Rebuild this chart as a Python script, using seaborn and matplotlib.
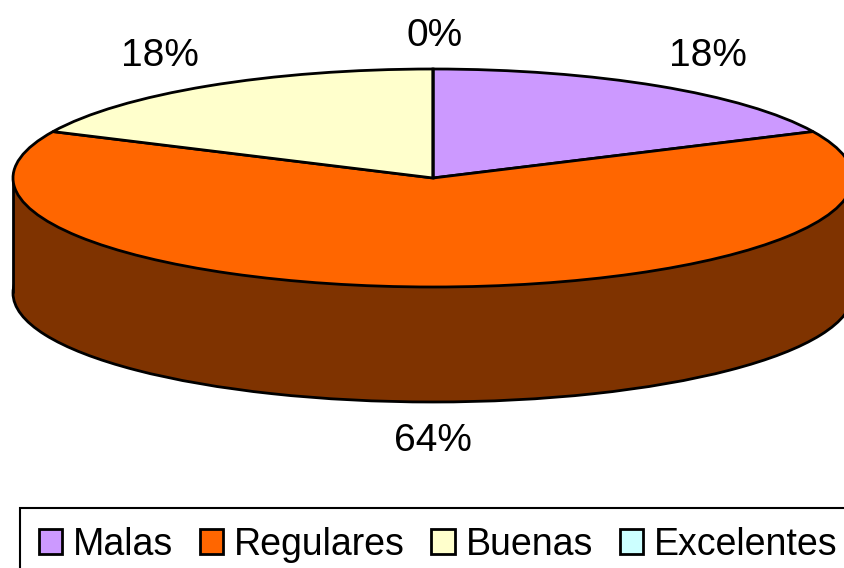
import matplotlib
matplotlib.use("Agg")
import matplotlib.pyplot as plt
from matplotlib.patches import Patch
import seaborn as sns

categories = ["Malas", "Regulares", "Buenas", "Excelentes"]
values = [18, 64, 18, 0]
labels = ["18%", "64%", "18%", "0%"]
colors = ["#CC99FF", "#FF6600", "#FFFFCC", "#CCFFFF"]
side_color = "#7F3300"

sns.set_theme(style="white")
plt.rcParams["font.family"] = ["Liberation Sans", "DejaVu Sans"]

W, H = 845, 568
CX, CY, RX, RY, DEPTH = 433, 178, 420, 109, 115

fig = plt.figure(figsize=(W / 100, H / 100), dpi=100, facecolor="white")
ax = fig.add_axes([0, 0, 1, 1])


def px(x):
    return (x - CX) / RX


def py(y):
    return (CY - y) / RY


edge = dict(edgecolor="black", linewidth=2)
d = DEPTH / RY
# extruded side of the disc: one full wedge, so no radial seam shows
ax.pie([sum(values)], colors=[side_color], startangle=90, counterclock=False,
       center=(0, -d), radius=1, wedgeprops=edge, normalize=True)
ax.fill_between([-1, 1], [-d, -d], [0, 0], color=side_color, linewidth=0, zorder=3)
ax.vlines([-1, 1], -d, 0, color="black", linewidth=2, zorder=3)
# top face
wedges, _ = ax.pie(values, colors=colors, startangle=90, counterclock=False,
                   center=(0, 0), radius=1, wedgeprops=edge, normalize=True)
for w in wedges:
    w.set_zorder(4)

ax.set_aspect("auto")
ax.set_xlim(px(0), px(W))
ax.set_ylim(py(H), py(0))
ax.axis("off")

label_px = [(708, 56), (433, 441), (160, 56), (435, 36)]
for text, (x, y) in zip(labels, label_px):
    ax.text(px(x), py(y), text, fontsize=28, color="black", ha="center",
            va="center", zorder=6)

handles = [Patch(facecolor=c, edgecolor="black", linewidth=2) for c in colors]
leg = ax.legend(handles, categories, ncol=4, loc="upper left",
                bbox_to_anchor=(20 / W, 1 - 508 / H), bbox_transform=fig.transFigure,
                fontsize=27, labelcolor="black", frameon=True, fancybox=False,
                edgecolor="black", facecolor="white", framealpha=1, borderaxespad=0,
                handlelength=0.62, handleheight=0.62, handletextpad=0.3,
                columnspacing=0.7, borderpad=0.5, labelspacing=0)
leg.get_frame().set_linewidth(1.5)
leg.set_zorder(7)

fig.savefig("out.png", dpi=100)
